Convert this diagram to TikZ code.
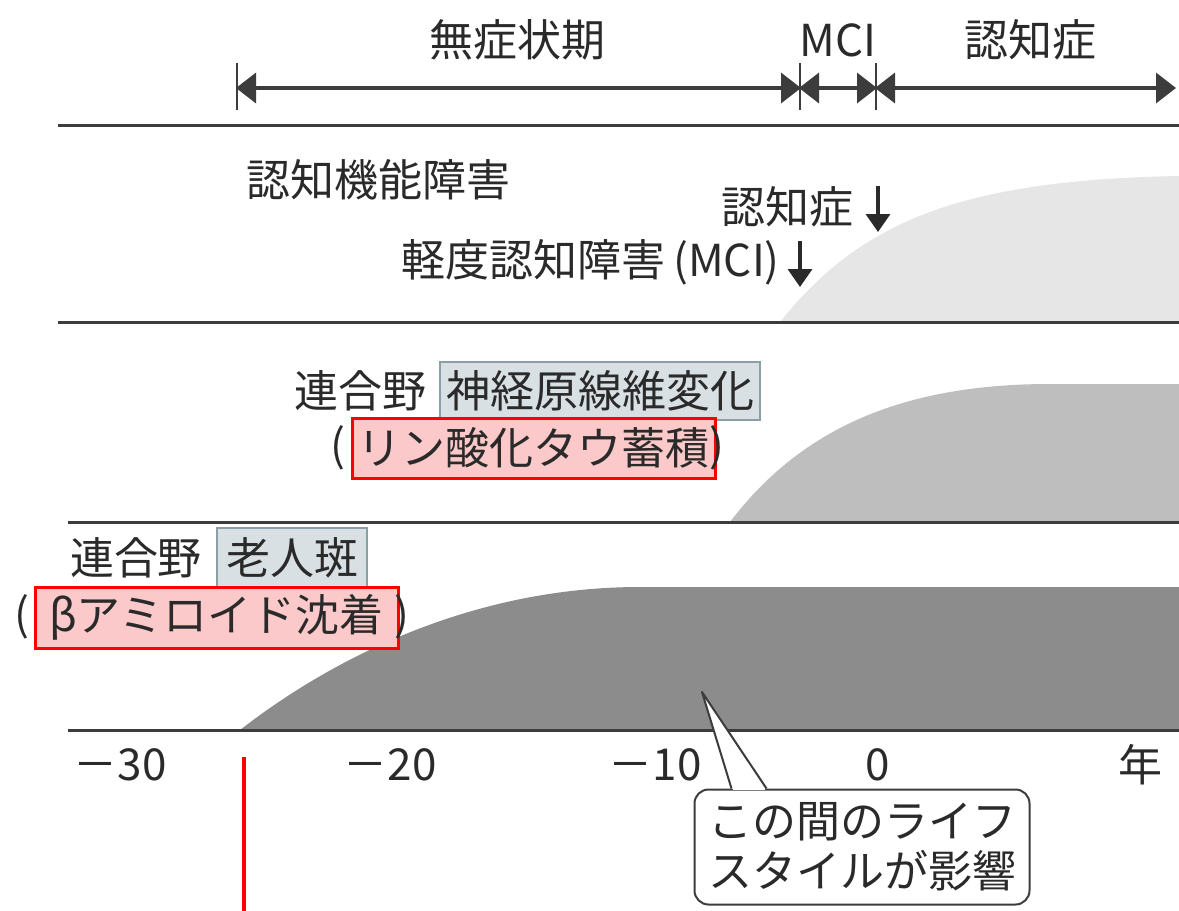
\documentclass[tikz,border=0pt]{standalone}
\usepackage{fontspec}
\setmainfont{Noto Sans CJK JP}
\usetikzlibrary{arrows.meta,calc}
\definecolor{linec}{HTML}{3C3C3C}
\definecolor{textc}{HTML}{2A2A2A}
\definecolor{fillA}{HTML}{E6E6E6}
\definecolor{fillB}{HTML}{BEBEBE}
\definecolor{fillC}{HTML}{8C8C8C}
\definecolor{tagfill}{HTML}{D9E0E4}
\definecolor{tagdraw}{HTML}{8A9FA8}
\definecolor{redfill}{HTML}{FBC9C9}
\newcommand\jpbig{\fontsize{44pt}{50pt}\selectfont}
\tikzset{
  txt/.style={font=\jpbig, text=textc, inner sep=0pt},
  panelline/.style={draw=linec, line width=3pt},
  spanarrow/.style={draw=linec, line width=3.5pt, {Triangle[length=20pt,width=30pt]}-{Triangle[length=20pt,width=30pt]}, shorten <=-1pt, shorten >=-1pt},
  tick/.style={draw=linec, line width=1.5pt},
  downarrow/.style={draw=textc, line width=3.5pt, -{Triangle[length=18pt,width=24pt]}},
  graytag/.style={draw=tagdraw, fill=tagfill, line width=2pt, inner sep=0pt},
  redtag/.style={draw=red, fill=redfill, line width=3pt, inner sep=0pt},
}
\begin{document}
\begin{tikzpicture}[x=1pt,y=-1pt]
\useasboundingbox (0,0) rectangle (1179,911);
\fill[white] (0,0) rectangle (1179,911);

% ---- filled curves
\fill[fillA] (780,322) .. controls (860,222) and (960,180) .. (1179,176) -- (1179,322) -- cycle;
\fill[fillB] (730,522) .. controls (800,430) and (900,384) .. (1050,384) -- (1179,384) -- (1179,522) -- cycle;
\fill[fillC] (240,730) .. controls (330,660) and (470,587) .. (640,587) -- (1179,587) -- (1179,730) -- cycle;

% ---- panel lines
\coordinate (l1a) at (58,125);  \coordinate (l1b) at (1179,125);
\coordinate (l2a) at (58,322);  \coordinate (l2b) at (1179,322);
\coordinate (l3a) at (68,522);  \coordinate (l3b) at (1179,522);
\coordinate (l4a) at (68,730);  \coordinate (l4b) at (1179,730);
\draw[panelline] (l1a) -- (l1b);
\draw[panelline] (l2a) -- (l2b);
\draw[panelline] (l3a) -- (l3b);
\draw[panelline] (l4a) -- (l4b);

% ---- top period arrows
\node[txt] (p1) at (517,40) {無症状期};
\node[txt] (p2) at (838,40) {MCI};
\node[txt] (p3) at (1030,40) {認知症};
\coordinate (a0) at (237,88);
\coordinate (a1) at (800,88);
\coordinate (a2) at (876,88);
\coordinate (a3) at (1175,88);
\draw[tick] ($(a0)+(0,-25)$) -- ($(a0)+(0,22)$);
\draw[tick] ($(a1)+(0,-25)$) -- ($(a1)+(0,22)$);
\draw[tick] ($(a2)+(0,-25)$) -- ($(a2)+(0,22)$);
\draw[spanarrow] (a0) -- (a1);
\draw[spanarrow] (a1) -- (a2);
\draw[spanarrow] (a2) -- (a3);

% ---- panel 1 texts
\node[txt] (cog) at (378,180) {認知機能障害};
\node[txt] (dem) at (787,207) {認知症};
\coordinate (demA) at (878,186);
\coordinate (demB) at (878,232);
\draw[downarrow] (demA) -- (demB);
\node[txt, anchor=east] (mci) at (780,262) {軽度認知障害\hspace{8pt}(MCI)};
\coordinate (mciA) at (800,241);
\coordinate (mciB) at (800,287);
\draw[downarrow] (mciA) -- (mciB);

% ---- panel 2 texts
\node[txt] (ren2) at (360,391) {連合野};
\node[graytag, minimum width=320pt, minimum height=58pt] (tag2) at (600,391) {};
\node[txt] (tag2t) at (tag2.center) {神経原線維変化};
\node[redtag, minimum width=363pt, minimum height=60pt] (red2) at (533.5,448) {};
\node[txt] (red2t) at (red2.center) {リン酸化タウ蓄積};
\node[txt] (lp2) at (338,448) {(};
\node[txt] (rp2) at (717,448) {)};

% ---- panel 3 texts
\node[txt] (ren3) at (136,558) {連合野};
\node[graytag, minimum width=150pt, minimum height=60pt] (tag3) at (292,558) {};
\node[txt] (tag3t) at (tag3.center) {老人斑};
\node[redtag, minimum width=363pt, minimum height=61pt] (red3) at (216.5,617.5) {};
\node[txt] (red3t) at (red3.center) {βアミロイド沈着};
\node[txt] (lp3) at (22,617) {(};
\node[txt] (rp3) at (402,617) {)};

% ---- axis labels
\node[txt] (x30) at (120,765) {－30};
\node[txt] (x20) at (390,765) {－20};
\node[txt] (x10) at (655,765) {－10};
\node[txt] (x0) at (878,765) {0};
\node[txt] (xy) at (1140,765) {年};

% ---- callout
\node[draw=linec, fill=white, line width=2pt, rounded corners=14pt,
      minimum width=335pt, minimum height=115pt, inner sep=0pt] (call) at (862,847) {};
\node[txt, align=left] (callt) at (call.center) {この間のライフ\\スタイルが影響};
\coordinate (tip) at (702,692);
\coordinate (w1) at ($(call.north west)+(38,0)$);
\coordinate (w2) at ($(call.north west)+(73,0)$);
\fill[white] (w1) -- (tip) -- (w2) -- cycle;
\draw[white, line width=3pt] ($(w1)+(1.5,0)$) -- ($(w2)+(-1.5,0)$);
\draw[draw=linec, line width=2pt, line join=round] (w1) -- (tip) -- (w2);

% ---- red marker line
\coordinate (r1) at (244,757);
\coordinate (r2) at (244,911);
\draw[red, line width=4pt] (r1) -- (r2);
\end{tikzpicture}
\end{document}
